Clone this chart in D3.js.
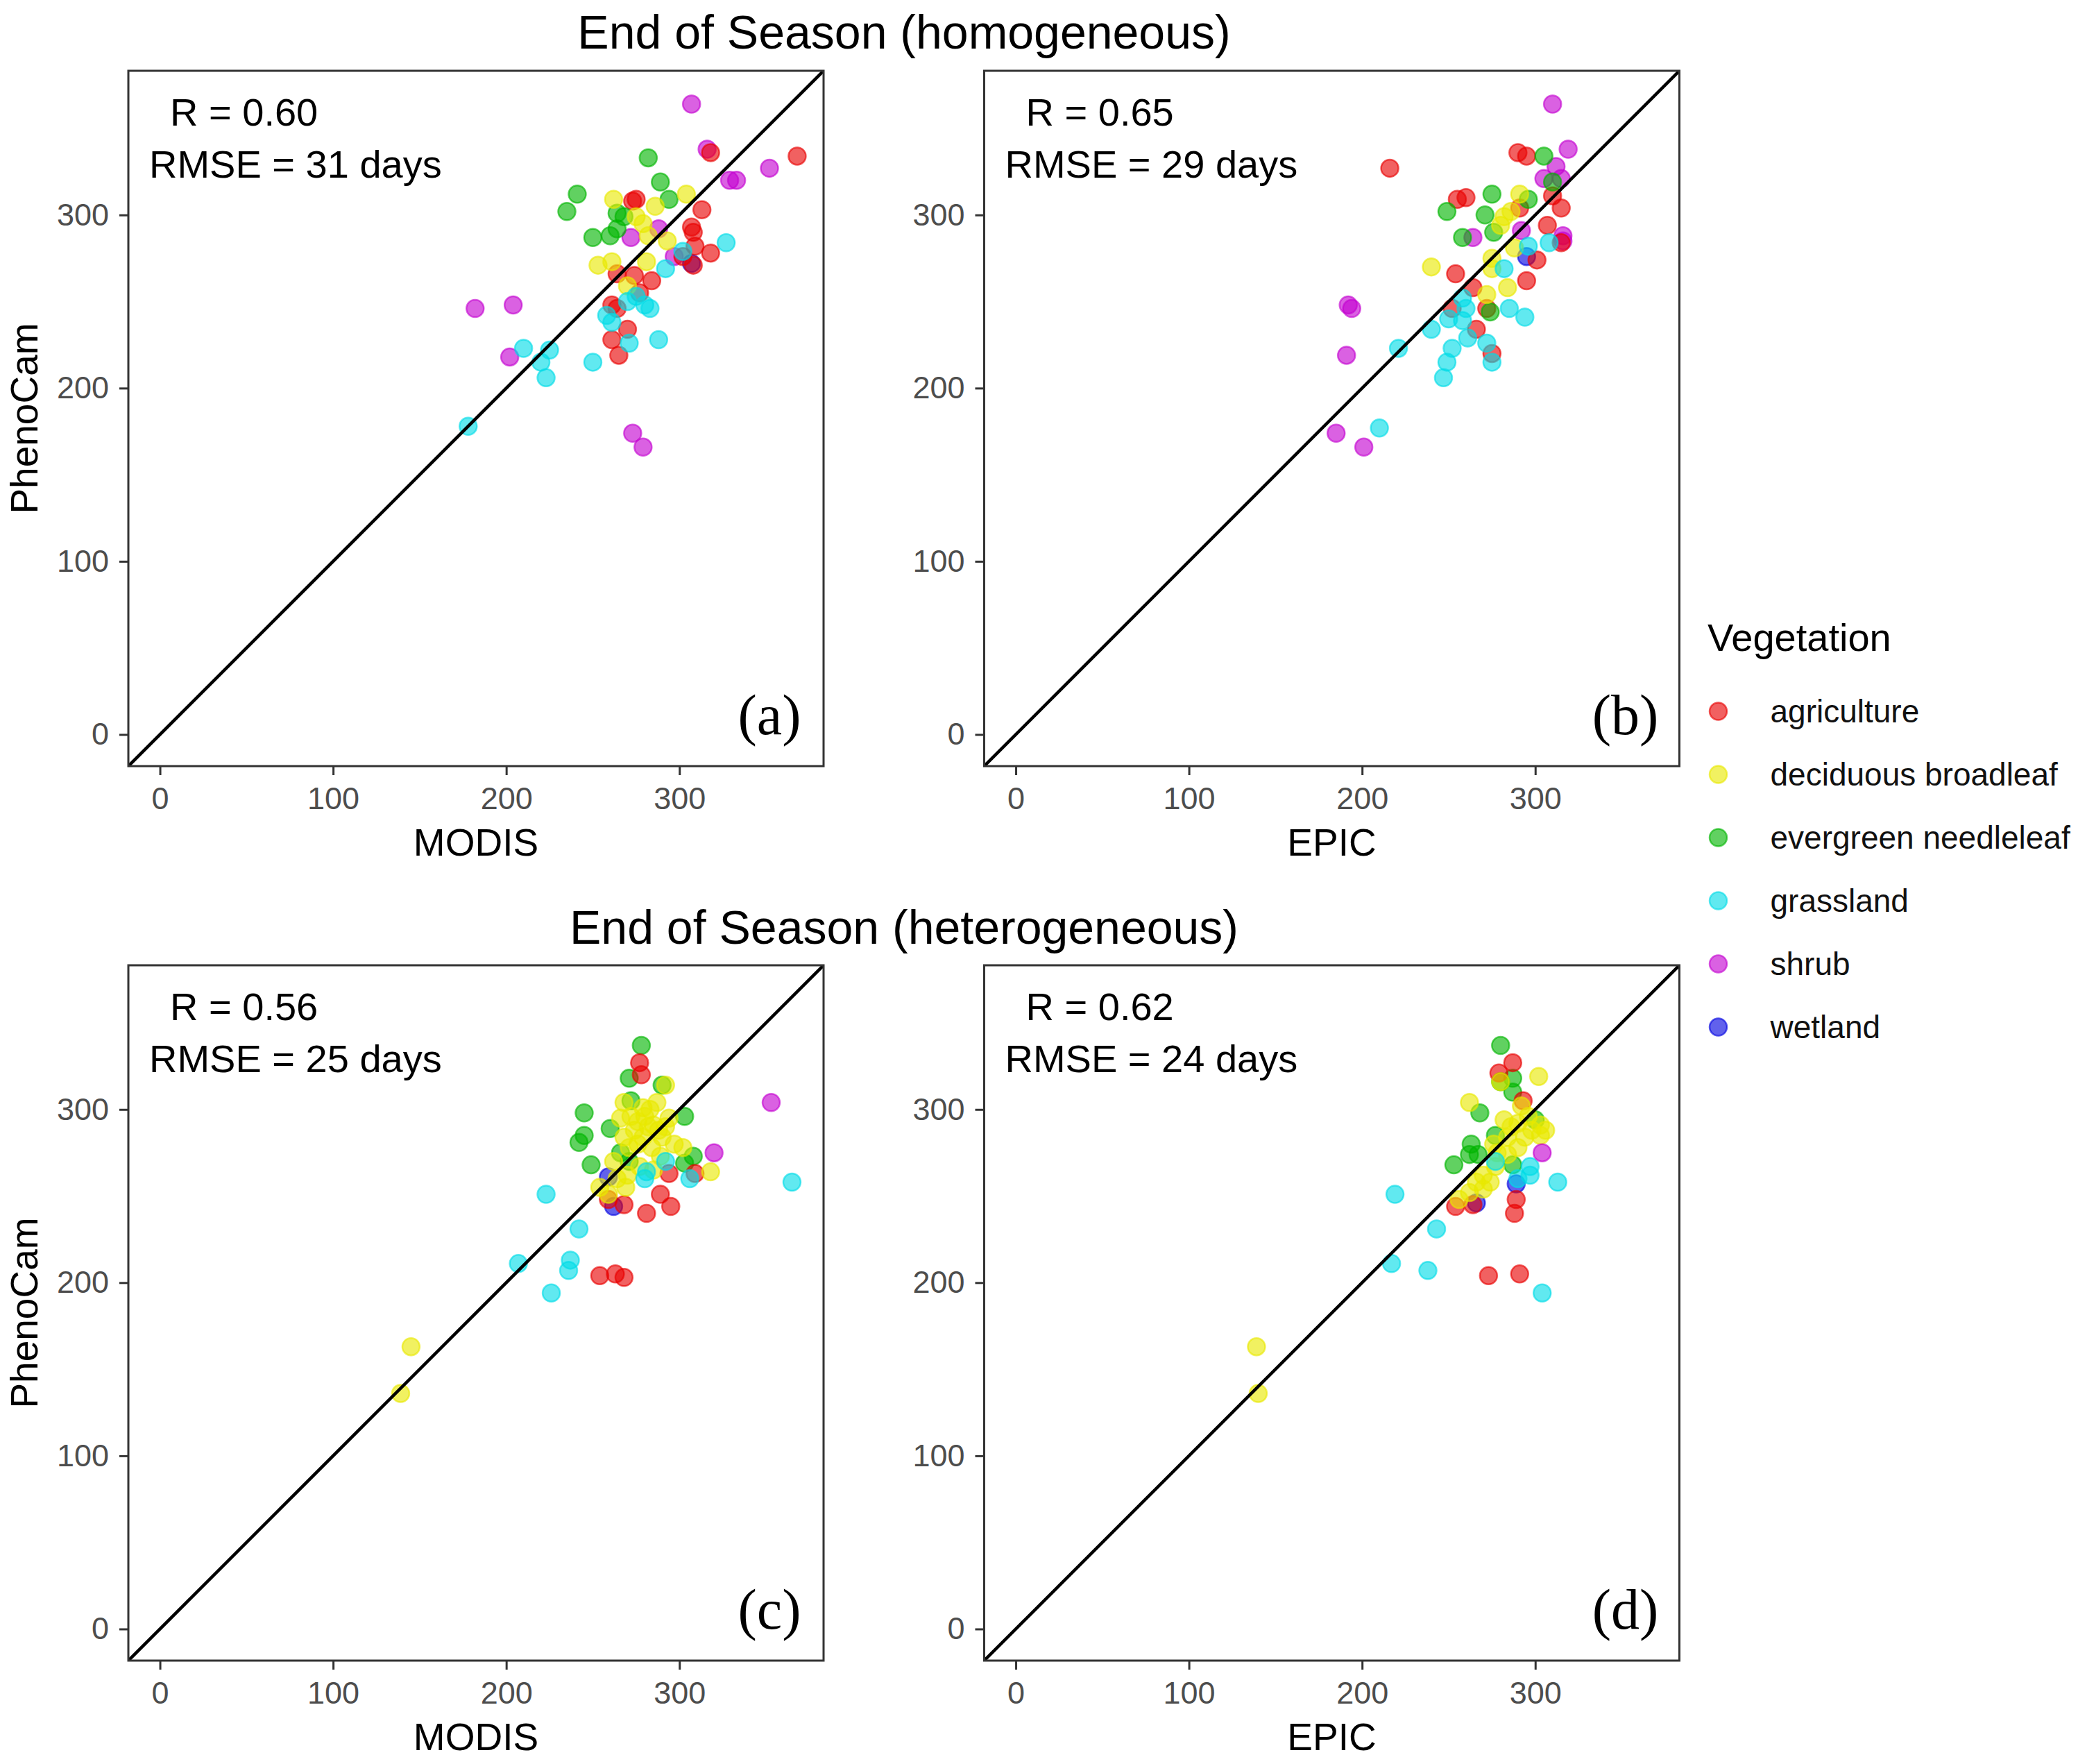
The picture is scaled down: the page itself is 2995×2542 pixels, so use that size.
<!DOCTYPE html>
<html>
<head>
<meta charset="utf-8">
<script src="https://cdn.jsdelivr.net/npm/d3@7"></script>
<style>
  body { margin: 0; background: #fff; }
  text { font-family: "Liberation Sans", Arial, sans-serif; }
</style>
</head>
<body>
<svg id="chart"></svg>
<script>
// vegetation classes and their colours
const vegetation = ["agriculture", "deciduous broadleaf", "evergreen needleleaf", "grassland", "shrub", "wetland"];
const vegColors = ["#E80000", "#E8E800", "#00B400", "#00DCE6", "#C400D0", "#0000E0"];

const axisTicks = [0, 100, 200, 300];
const axisDomain = [-18.25, 383.25];

const rowTitles = ["End of Season (homogeneous)", "End of Season (heterogeneous)"];
const statR = ["R = 0.60", "R = 0.65", "R = 0.56", "R = 0.62"];
const statRmse = ["RMSE = 31 days", "RMSE = 29 days", "RMSE = 25 days", "RMSE = 24 days"];
const panelTags = ["(a)", "(b)", "(c)", "(d)"];
const xTitles = ["MODIS", "EPIC", "MODIS", "EPIC"];

// [vegetation index, satellite/model day, PhenoCam day]
const homoModis = [
  [5,307,272],
  [4,307,364],[4,316,338],[4,352,327],[4,329,320],[4,333,320],[4,288,292],[4,272,287],[4,297,276],
  [4,182,246],[4,204,248],[4,202,218],[4,273,174],[4,279,166],
  [0,318,336],[0,368,334],[0,273,308],[0,275,309],[0,313,303],[0,307,293],[0,308,290],[0,309,282],
  [0,318,278],[0,302,276],[0,264,266],[0,274,265],[0,284,262],[0,261,248],[0,264,246],[0,277,255],
  [0,270,234],[0,261,228],[0,265,219],[0,308,271],
  [2,282,333],[2,241,312],[2,235,302],[2,289,319],[2,294,309],[2,264,301],[2,268,299],[2,250,287],
  [2,260,288],[2,264,292],
  [1,262,309],[1,304,312],[1,286,305],[1,279,295],[1,282,288],[1,253,271],[1,261,273],[1,281,273],
  [1,293,285],[1,270,259],[1,275,299],
  [3,327,284],[3,292,269],[3,302,279],[3,275,253],[3,283,246],[3,258,242],[3,261,238],[3,271,226],
  [3,288,228],[3,250,215],[3,210,223],[3,225,222],[3,220,215],[3,223,206],[3,178,178],[3,270,250],
  [3,280,248]
];

const homoEpic = [
  [5,295,276],
  [4,310,364],[4,319,338],[4,312,328],[4,305,321],[4,315,321],[4,264,287],[4,316,288],[4,316,285],
  [4,292,291],[4,192,248],[4,194,246],[4,191,219],[4,185,174],[4,201,166],
  [0,216,327],[0,290,336],[0,295,334],[0,255,309],[0,260,310],[0,291,304],[0,315,304],[0,307,294],
  [0,315,284],[0,301,274],[0,254,266],[0,295,262],[0,264,258],[0,252,246],[0,272,246],[0,266,234],
  [0,275,220],[0,310,311],
  [2,305,334],[2,310,319],[2,275,312],[2,296,309],[2,249,302],[2,271,300],[2,258,287],[2,276,290],
  [2,274,244],
  [1,240,270],[1,284,258],[1,275,269],[1,282,299],[1,291,312],[1,288,281],[1,275,275],[1,272,254],
  [1,280,294],[1,286,302],
  [3,296,282],[3,308,284],[3,282,269],[3,258,252],[3,260,246],[3,285,246],[3,294,241],[3,250,240],
  [3,258,239],[3,240,234],[3,261,229],[3,272,226],[3,252,223],[3,249,215],[3,247,206],[3,221,223],
  [3,210,177],[3,275,215]
];

const heteroModis = [
  [5,262,244],[5,259,261],
  [2,278,337],[2,271,318],[2,290,314],[2,272,305],[2,245,298],[2,303,296],[2,245,285],[2,242,281],
  [2,260,289],[2,249,268],[2,308,273],[2,303,269],[2,266,275],[2,271,270],
  [0,277,327],[0,278,320],[0,294,263],[0,289,251],[0,295,244],[0,281,240],[0,268,245],[0,254,204],
  [0,263,205],[0,268,203],[0,309,263],[0,259,248],
  [1,292,314],[1,268,304],[1,279,301],[1,287,304],[1,266,295],[1,276,293],[1,285,291],[1,294,295],
  [1,268,284],[1,279,284],[1,290,284],[1,271,278],[1,284,278],[1,297,280],[1,302,278],[1,277,267],
  [1,285,265],[1,264,260],[1,254,255],[1,269,255],[1,259,251],[1,318,264],[1,145,163],[1,139,136],
  [1,289,273],[1,262,270],[1,283,300],[1,274,288],[1,288,288],[1,280,296],[1,272,296],[1,282,290],
  [1,276,280],[1,292,290],[1,270,262],
  [3,223,251],[3,242,231],[3,207,211],[3,237,213],[3,236,207],[3,226,194],[3,365,258],[3,280,260],
  [3,292,270],[3,306,260],[3,281,264],
  [4,353,304],[4,320,275]
];

const heteroEpic = [
  [5,289,257],[5,266,246],
  [2,280,337],[2,287,318],[2,280,316],[2,287,310],[2,268,298],[2,300,294],[2,263,280],[2,262,274],
  [2,253,268],[2,267,274],[2,277,285],[2,287,268],
  [0,287,327],[0,279,321],[0,289,248],[0,288,240],[0,254,244],[0,264,245],[0,273,204],[0,291,205],
  [0,293,305],
  [1,302,319],[1,262,304],[1,292,302],[1,282,294],[1,290,292],[1,303,291],[1,284,284],[1,294,284],
  [1,303,285],[1,276,280],[1,290,278],[1,270,262],[1,274,258],[1,262,252],[1,270,254],[1,256,248],
  [1,277,267],[1,139,163],[1,140,136],[1,280,316],[1,298,288],[1,306,288],[1,286,290],[1,278,275],
  [1,296,296],[1,284,274],[1,266,258],
  [3,219,251],[3,243,231],[3,217,211],[3,238,207],[3,304,194],[3,313,258],[3,297,267],[3,290,260],
  [3,277,270],[3,297,262],
  [4,304,275]
];

const panelData = [homoModis, homoEpic, heteroModis, heteroEpic];

const W = 2995, H = 2542;
const size = 1002;
const lefts = [185, 1418.5, 185, 1418.5];
const tops = [102, 102, 1391, 1391];

const svg = d3.select("#chart").attr("width", W).attr("height", H);
svg.append("rect").attr("width", W).attr("height", H).attr("fill", "#fff");

const color = d3.scaleOrdinal().domain(d3.range(vegetation.length)).range(vegColors);

const x = d3.scaleLinear().domain(axisDomain).range([0, size]);
const y = d3.scaleLinear().domain(axisDomain).range([size, 0]);

function drawPoint(sel) {
  sel.attr("r", 12.5)
    .attr("fill", d => color(d[0]))
    .attr("fill-opacity", 0.62)
    .attr("stroke", d => color(d[0]))
    .attr("stroke-opacity", 0.62)
    .attr("stroke-width", 2.5);
}

panelData.forEach(function (data, i) {
  const g = svg.append("g").attr("transform", `translate(${lefts[i]}, ${tops[i]})`);

  g.append("clipPath").attr("id", "clip" + i)
    .append("rect").attr("width", size).attr("height", size);

  const plot = g.append("g").attr("clip-path", `url(#clip${i})`);

  plot.selectAll("circle")
    .data(data)
    .join("circle")
    .attr("cx", d => x(d[1]))
    .attr("cy", d => y(d[2]))
    .call(drawPoint);

  // 1:1 line
  plot.append("line")
    .attr("x1", x(axisDomain[0])).attr("y1", y(axisDomain[0]))
    .attr("x2", x(axisDomain[1])).attr("y2", y(axisDomain[1]))
    .attr("stroke", "#000").attr("stroke-width", 4.5);

  g.append("rect")
    .attr("width", size).attr("height", size)
    .attr("fill", "none").attr("stroke", "#333").attr("stroke-width", 3);

  const xAxis = g.append("g")
    .attr("transform", `translate(0, ${size})`)
    .call(d3.axisBottom(x).tickValues(axisTicks).tickSize(13).tickPadding(17));
  const yAxis = g.append("g")
    .call(d3.axisLeft(y).tickValues(axisTicks).tickSize(13).tickPadding(15));

  [xAxis, yAxis].forEach(function (ax) {
    ax.select(".domain").remove();
    ax.selectAll(".tick line").attr("stroke", "#333").attr("stroke-width", 3);
    ax.selectAll(".tick text")
      .attr("fill", "#4D4D4D")
      .style("font-size", "45px")
      .style("font-family", '"Liberation Sans", Arial, sans-serif');
  });

  g.append("text")
    .attr("x", 60).attr("y", 79)
    .style("font-size", "56px")
    .text(statR[i]);
  g.append("text")
    .attr("x", 30).attr("y", 154)
    .style("font-size", "56px")
    .text(statRmse[i]);

  g.append("text")
    .attr("x", x(352)).attr("y", y(0))
    .attr("text-anchor", "middle")
    .style("font-family", '"Liberation Serif", "DejaVu Serif", serif')
    .style("font-size", "82px")
    .text(panelTags[i]);

  g.append("text")
    .attr("x", size / 2).attr("y", size + 129)
    .attr("text-anchor", "middle")
    .style("font-size", "55px")
    .text(xTitles[i]);

  if (i % 2 == 0) {
    g.append("text")
      .attr("transform", `translate(-131, ${size / 2}) rotate(-90)`)
      .attr("text-anchor", "middle")
      .style("font-size", "55px")
      .text("PhenoCam");
  }
});

// row titles
svg.selectAll("text.rowTitle")
  .data(rowTitles)
  .join("text")
  .attr("class", "rowTitle")
  .attr("x", 1303)
  .attr("y", (d, i) => i == 0 ? 70 : 1360)
  .attr("text-anchor", "middle")
  .style("font-size", "68px")
  .text(d => d);

// legend
const legend = svg.append("g").attr("transform", "translate(2461, 938)");
legend.append("text")
  .style("font-size", "56px")
  .text("Vegetation");

const items = legend.selectAll("g.item")
  .data(vegetation)
  .join("g")
  .attr("class", "item")
  .attr("transform", (d, i) => `translate(0, ${87 + i * 91})`);

items.append("circle")
  .datum((d, i) => [i])
  .attr("cx", 15.5)
  .attr("cy", 0)
  .call(drawPoint)
  .attr("r", 12.5);

items.append("text")
  .attr("x", 90.5)
  .attr("dy", "0.35em")
  .style("font-size", "46px")
  .attr("fill", "#111")
  .text(d => d);
</script>
</body>
</html>
